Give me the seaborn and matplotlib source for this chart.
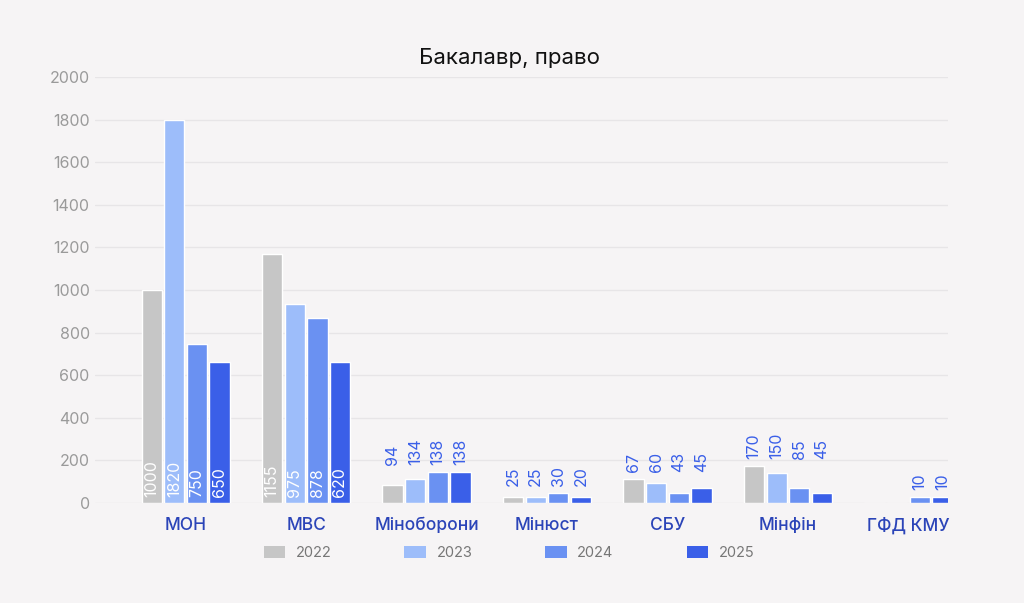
import numpy as np
import pandas as pd
import seaborn as sns
import matplotlib.pyplot as plt
from matplotlib.patches import Patch

# categories / years
ministries = ["МОН", "МВС", "Міноборони", "Мінюст", "СБУ", "Мінфін", "ГФД КМУ"]
years = ["2022", "2023", "2024", "2025"]

# printed values (None = no bar)
labels_2022 = [1000, 1155, 94, 25, 67, 170, None]
labels_2023 = [1820, 975, 134, 25, 60, 150, None]
labels_2024 = [750, 878, 138, 30, 43, 85, 10]
labels_2025 = [650, 620, 138, 20, 45, 45, 10]

# bar heights as drawn in the picture
heights_2022 = [1000, 1170, 85, 30, 113, 174, 0]
heights_2023 = [1800, 935, 113, 30, 95, 139, 0]
heights_2024 = [745, 870, 147, 48, 48, 72, 30]
heights_2025 = [660, 660, 147, 30, 72, 48, 30]

colors = ["#c6c6c6", "#9dbdfa", "#6a91f2", "#3a5fe8"]
bg = "#f6f4f5"

heights = [heights_2022, heights_2023, heights_2024, heights_2025]
labels = [labels_2022, labels_2023, labels_2024, labels_2025]

df = pd.DataFrame({
    "ministry": np.tile(ministries, len(years)),
    "year": np.repeat(years, len(ministries)),
    "value": np.concatenate(heights),
})

sns.set_theme(style="white")
plt.rcParams["font.family"] = ["Inter", "DejaVu Sans"]

fig = plt.figure(figsize=(10.24, 6.03), dpi=100, facecolor=bg)
ax = fig.add_axes([0.093, 0.166, 0.833, 0.706], facecolor=bg)

sns.barplot(data=df, x="ministry", y="value", hue="year", order=ministries,
            hue_order=years, palette=colors, width=0.75, gap=0.1,
            saturation=1, legend=False, ax=ax, zorder=3)

ax.set_ylim(0, 2000)
ax.set_xlim(-0.75, 6.33)
ax.set_yticks(range(0, 2001, 200))
ax.yaxis.grid(True, color="#e7e5e7", linewidth=1, zorder=0)
ax.set_axisbelow(True)
for s in ax.spines.values():
    s.set_visible(False)
ax.set_xlabel("")
ax.set_ylabel("")
ax.tick_params(axis="y", labelsize=11.5, labelcolor="#9a9a9a", length=0, pad=4)
ax.tick_params(axis="x", labelsize=12.5, labelcolor="#2b44b8", length=0, pad=10)
for t in ax.get_xticklabels():
    t.set_fontweight("medium")

# value labels
group_max = [max(h[i] for h in heights) for i in range(len(ministries))]
for yi, cont in enumerate(ax.containers):
    for ci, bar in enumerate(cont):
        val = labels[yi][ci]
        if val is None:
            continue
        xc = bar.get_x() + bar.get_width() / 2
        if group_max[ci] > 500:
            ax.annotate(str(val), (xc, 0), xytext=(0, 4), textcoords="offset points",
                        rotation=90, ha="center", va="bottom", color="white",
                        fontsize=11.5, zorder=4)
        else:
            ax.annotate(str(val), (xc, group_max[ci]), xytext=(0, 5),
                        textcoords="offset points", rotation=90, ha="center",
                        va="bottom", color="#3a5fe8", fontsize=11.5, zorder=4)

fig.text(0.498, 0.903, "Бакалавр, право", ha="center", va="center",
         fontsize=16, color="#111111")

handles = [Patch(facecolor=c, edgecolor="none") for c in colors]
fig.legend(handles, years, loc="center", bbox_to_anchor=(0.497, 0.083), ncol=4,
           frameon=False, fontsize=10.5, labelcolor="#777777",
           handlelength=1.5, handleheight=0.9, handletextpad=0.7,
           columnspacing=5.0)

fig.savefig("out.png", dpi=100, facecolor=bg)
